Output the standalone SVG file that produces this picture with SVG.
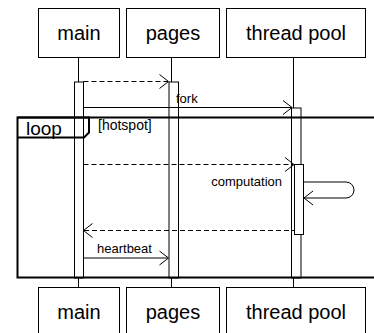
<svg xmlns="http://www.w3.org/2000/svg" width="374" height="333" viewBox="0 0 374 333">
  <style>
    text { font-family: "Liberation Sans", Arial, sans-serif; fill: #000; }
    .head { font-size: 20px; text-anchor: middle; }
    .msg { font-size: 13px; }
    .guard { font-size: 14px; }
    .box { fill: #fff; stroke: #000; stroke-width: 1; }
    .life { stroke: #000; stroke-width: 1; fill: none; }
    .act { fill: #fff; stroke: #000; stroke-width: 1; }
    .line { stroke: #000; stroke-width: 1; fill: none; }
    .dash { stroke-dasharray: 5 3; }
    .head-open { stroke: #000; stroke-width: 1; fill: none; }
    .frame { fill: none; stroke: #000; stroke-width: 2; }
  </style>

  <!-- lifelines -->
  <g id="lifelines">
    <line class="life" x1="78.5" y1="57.5" x2="78.5" y2="82"/>
    <line class="life" x1="171.5" y1="57.5" x2="171.5" y2="82"/>
    <line class="life" x1="293.5" y1="57.5" x2="293.5" y2="108"/>
    <line class="life" x1="78.5" y1="278" x2="78.5" y2="288"/>
    <line class="life" x1="171.5" y1="278" x2="171.5" y2="288"/>
    <line class="life" x1="293.5" y1="278" x2="293.5" y2="288"/>
  </g>

  <!-- participants, top -->
  <g id="main-top">
    <rect class="box" x="38.5" y="8.5" width="81" height="49"/>
    <text class="head" x="79" y="39.5">main</text>
  </g>
  <g id="pages-top">
    <rect class="box" x="126.5" y="8.5" width="93" height="49"/>
    <text class="head" x="173" y="39.5">pages</text>
  </g>
  <g id="pool-top">
    <rect class="box" x="226.5" y="8.5" width="139" height="49"/>
    <text class="head" x="296" y="39.5">thread pool</text>
  </g>

  <!-- activations -->
  <g id="main-activation">
    <rect class="act" x="74.5" y="82" width="9" height="196"/>
  </g>
  <g id="pages-activation">
    <rect class="act" x="169" y="82" width="9.5" height="196"/>
  </g>
  <g id="pool-activation">
    <rect class="act" x="291.5" y="108" width="9.5" height="170"/>
  </g>
  <g id="pool-computation">
    <rect class="act" x="294.5" y="164.5" width="9" height="70"/>
  </g>

  <!-- connectors -->
  <g id="connectors">
    <line class="line dash" x1="83.5" y1="81.5" x2="168" y2="81.5"/>
    <polyline class="head-open" points="159.5,74.5 168.5,81.5 159.5,88.5"/>

    <line class="line" x1="83.5" y1="107.5" x2="291.5" y2="107.5"/>
    <polyline class="head-open" points="283,100.5 292,107.5 283,114.5"/>
    <text class="msg" x="176" y="103">fork</text>

    <line class="line dash" x1="83.5" y1="164.5" x2="293" y2="164.5"/>
    <polyline class="head-open" points="285,157.5 294,164.5 285,171.5"/>

    <path class="line" d="M303.5,182 H346 A8,8 0 0 1 354,190 A8,8 0 0 1 346,198 H304.5"/>
    <polyline class="head-open" points="313,191 304,198 313,205"/>
    <text class="msg" x="282" y="186" text-anchor="end">computation</text>

    <line class="line dash" x1="84" y1="230.5" x2="294" y2="230.5"/>
    <polyline class="head-open" points="92.5,223.5 83.5,230.5 92.5,237.5"/>

    <line class="line" x1="83.5" y1="258" x2="168" y2="258"/>
    <polyline class="head-open" points="159.5,251 168.5,258 159.5,265"/>
    <text class="msg" x="97" y="253">heartbeat</text>
  </g>

  <!-- loop fragment -->
  <g id="loop">
    <rect class="frame" x="17.5" y="117.5" width="380" height="160"/>
    <path class="frame" d="M17.5,117.5 H89 V132.5 L84,137.5 H17.5"/>
    <text x="26" y="135" font-size="19">loop</text>
    <text class="guard" x="98" y="129.5">[hotspot]</text>
  </g>

  <!-- participants, bottom -->
  <g id="main-bottom">
    <rect class="box" x="38.5" y="287.5" width="81" height="49"/>
    <text class="head" x="79" y="318.5">main</text>
  </g>
  <g id="pages-bottom">
    <rect class="box" x="126.5" y="287.5" width="93" height="49"/>
    <text class="head" x="173" y="318.5">pages</text>
  </g>
  <g id="pool-bottom">
    <rect class="box" x="226.5" y="287.5" width="139" height="49"/>
    <text class="head" x="296" y="318.5">thread pool</text>
  </g>
</svg>
